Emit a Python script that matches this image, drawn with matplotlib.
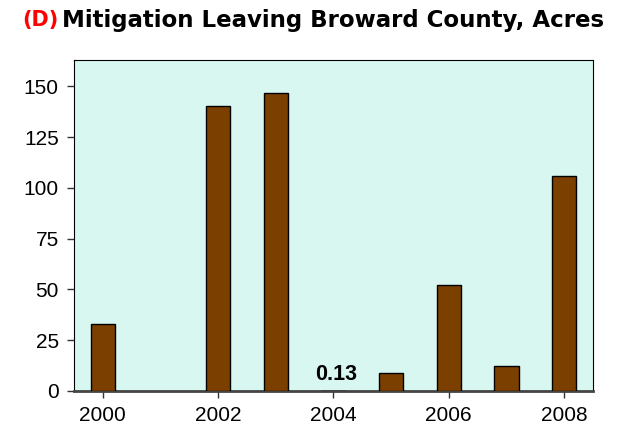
import matplotlib
matplotlib.use('Agg')
import matplotlib.pyplot as plt

plt.rcParams['font.family'] = ['Liberation Sans', 'DejaVu Sans']

years = [2000, 2001, 2002, 2003, 2004, 2005, 2006, 2007, 2008]
acres = [33, 0, 140.5, 146.5, 0.13, 9, 52, 12.3, 106]
tick_years = [2000, 2002, 2004, 2006, 2008]
yticks = [0, 25, 50, 75, 100, 125, 150]

fig = plt.figure(figsize=(6.41, 4.30), dpi=100)
ax = fig.add_axes([0.1154, 0.0907, 0.8096, 0.7698])
ax.set_facecolor('#D8F7F0')

edges = ['black' if v > 0 else 'none' for v in acres]
ax.bar(years, acres, width=0.42, color='#7B3F00', edgecolor=edges, linewidth=1.0, zorder=3)

# label for the tiny 2004 value
ax.text(2004.05, 5.6, f'{acres[4]:.2f}', ha='center', va='baseline', fontsize=15.5,
        fontweight='bold', color='black', zorder=4)

ax.set_xlim(1999.5, 2008.5)
ax.set_ylim(0, 163)
ax.set_xticks(tick_years)
ax.set_xticklabels([str(y) for y in tick_years], fontsize=15)
ax.set_yticks(yticks)
ax.set_yticklabels([str(v) for v in yticks], fontsize=15)
ax.tick_params(axis='both', direction='out', length=5, width=1, color='#333333', pad=6)

for side in ['top', 'right', 'left']:
    ax.spines[side].set_color('black')
    ax.spines[side].set_linewidth(0.8)
ax.spines['bottom'].set_color('#444444')
ax.spines['bottom'].set_linewidth(2)

fig.text(0.034, 0.953, '(D)', color='#FF0000', fontsize=15, fontweight='bold',
         ha='left', va='center', family='DejaVu Sans')
fig.text(0.097, 0.953, 'Mitigation Leaving Broward County, Acres', color='black',
         fontsize=16.5, fontweight='bold', ha='left', va='center', family='DejaVu Sans')

fig.savefig('out.png', dpi=100)
